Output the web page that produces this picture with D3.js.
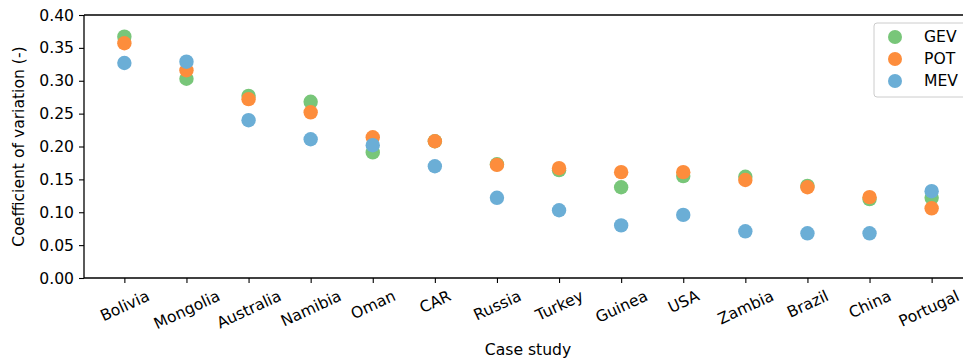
<!DOCTYPE html>
<html>
<head>
<meta charset="utf-8">
<script src="https://cdn.jsdelivr.net/npm/d3@7"></script>
<style>
  body { margin: 0; background: #fff; }
  svg { font-family: "DejaVu Sans", sans-serif; }
</style>
</head>
<body>
<svg id="chart" width="963" height="363"></svg>
<script>
// Case studies, in plot order
const cases = ["Bolivia", "Mongolia", "Australia", "Namibia", "Oman", "CAR", "Russia",
  "Turkey", "Guinea", "USA", "Zambia", "Brazil", "China", "Portugal"];

// Coefficient of variation per method
const gev = [0.367, 0.303, 0.277, 0.268, 0.191, 0.208, 0.173, 0.164, 0.138, 0.155, 0.154, 0.140, 0.120, 0.122];
const pot = [0.357, 0.316, 0.272, 0.252, 0.214, 0.208, 0.172, 0.167, 0.161, 0.161, 0.149, 0.138, 0.123, 0.106];
const mev = [0.327, 0.329, 0.240, 0.211, 0.202, 0.170, 0.122, 0.103, 0.080, 0.096, 0.071, 0.068, 0.068, 0.132];

const yTicks = [0, 0.05, 0.10, 0.15, 0.20, 0.25, 0.30, 0.35, 0.40];

const series = [
  { name: "GEV", values: gev, color: "#78c679" },
  { name: "POT", values: pot, color: "#fd8d3c" },
  { name: "MEV", values: mev, color: "#6baed6" },
];

const FS = 15.6;
const svg = d3.select("#chart");
const margin = { left: 84, top: 15, right: 972, bottom: 278 }; // right edge runs past the picture

const x = d3.scaleLinear().domain([-0.65, cases.length - 1 + 0.65]).range([margin.left, margin.right]);
const y = d3.scaleLinear().domain([0, 0.4]).range([margin.bottom, margin.top]);

// points
series.forEach((s) => {
  svg.append("g")
    .selectAll("circle")
    .data(s.values)
    .join("circle")
    .attr("cx", (d, i) => x(i))
    .attr("cy", (d) => y(d))
    .attr("r", 7.2)
    .attr("fill", s.color);
});

// y axis
const yAxis = svg.append("g")
  .attr("transform", `translate(${margin.left},0)`)
  .call(d3.axisLeft(y).tickValues(yTicks).tickFormat(d3.format(".2f")).tickSize(5).tickPadding(5));
yAxis.select(".domain").attr("stroke-width", 1.3).attr("d", `M0,${margin.bottom}V${margin.top}`);
yAxis.selectAll(".tick line").attr("stroke-width", 1.1);
yAxis.selectAll("text").attr("font-size", FS).attr("fill", "#000").attr("font-family", "DejaVu Sans");

// x axis
const xAxis = svg.append("g")
  .attr("transform", `translate(0,${margin.bottom})`)
  .call(d3.axisBottom(x).tickValues(d3.range(cases.length)).tickFormat((i) => cases[i]).tickSize(5));
xAxis.select(".domain").attr("stroke-width", 1.3).attr("d", `M${margin.left},0H${margin.right}`);
xAxis.selectAll(".tick line").attr("stroke-width", 1.1);

// rotated labels, top of the rotated box sits just under the ticks
const ang = 25 * Math.PI / 180;
xAxis.selectAll(".tick text")
  .attr("font-size", FS)
  .attr("fill", "#000")
  .attr("font-family", "DejaVu Sans")
  .attr("dy", null)
  .attr("y", 0)
  .attr("text-anchor", "middle")
  .attr("dominant-baseline", "central")
  .each(function (d) {
    const w = this.getComputedTextLength();
    const bh = w * Math.sin(ang) + FS * Math.cos(ang);
    // last label touches the picture edge, pull it in a little
    const dx = d === cases.length - 1 ? -3 : 0;
    d3.select(this).attr("transform", `translate(${dx},${10 + bh / 2}) rotate(-25)`);
  });

// top and right spines
svg.append("line")
  .attr("x1", margin.left).attr("x2", margin.right)
  .attr("y1", margin.top).attr("y2", margin.top)
  .attr("stroke", "#000").attr("stroke-width", 1.3);
svg.append("line")
  .attr("x1", margin.right).attr("x2", margin.right)
  .attr("y1", margin.top).attr("y2", margin.bottom)
  .attr("stroke", "#000").attr("stroke-width", 1.3);

// axis titles
svg.append("text")
  .attr("x", 528)
  .attr("y", 355)
  .attr("text-anchor", "middle")
  .attr("font-size", FS)
  .text("Case study");

svg.append("text")
  .attr("transform", `translate(24,${(margin.top + margin.bottom) / 2}) rotate(-90)`)
  .attr("text-anchor", "middle")
  .attr("font-size", FS)
  .text("Coefficient of variation (-)");

// legend
const lg = svg.append("g").attr("transform", "translate(874,23)");
lg.append("rect")
  .attr("width", 110).attr("height", 74).attr("rx", 3)
  .attr("fill", "#fff").attr("fill-opacity", 0.8)
  .attr("stroke", "#cccccc").attr("stroke-width", 1);
series.forEach((s, i) => {
  lg.append("circle").attr("cx", 21).attr("cy", 14 + i * 22).attr("r", 7).attr("fill", s.color);
  lg.append("text").attr("x", 50).attr("y", 14 + i * 22)
    .attr("dominant-baseline", "central")
    .attr("font-size", FS)
    .text(s.name);
});
</script>
</body>
</html>
